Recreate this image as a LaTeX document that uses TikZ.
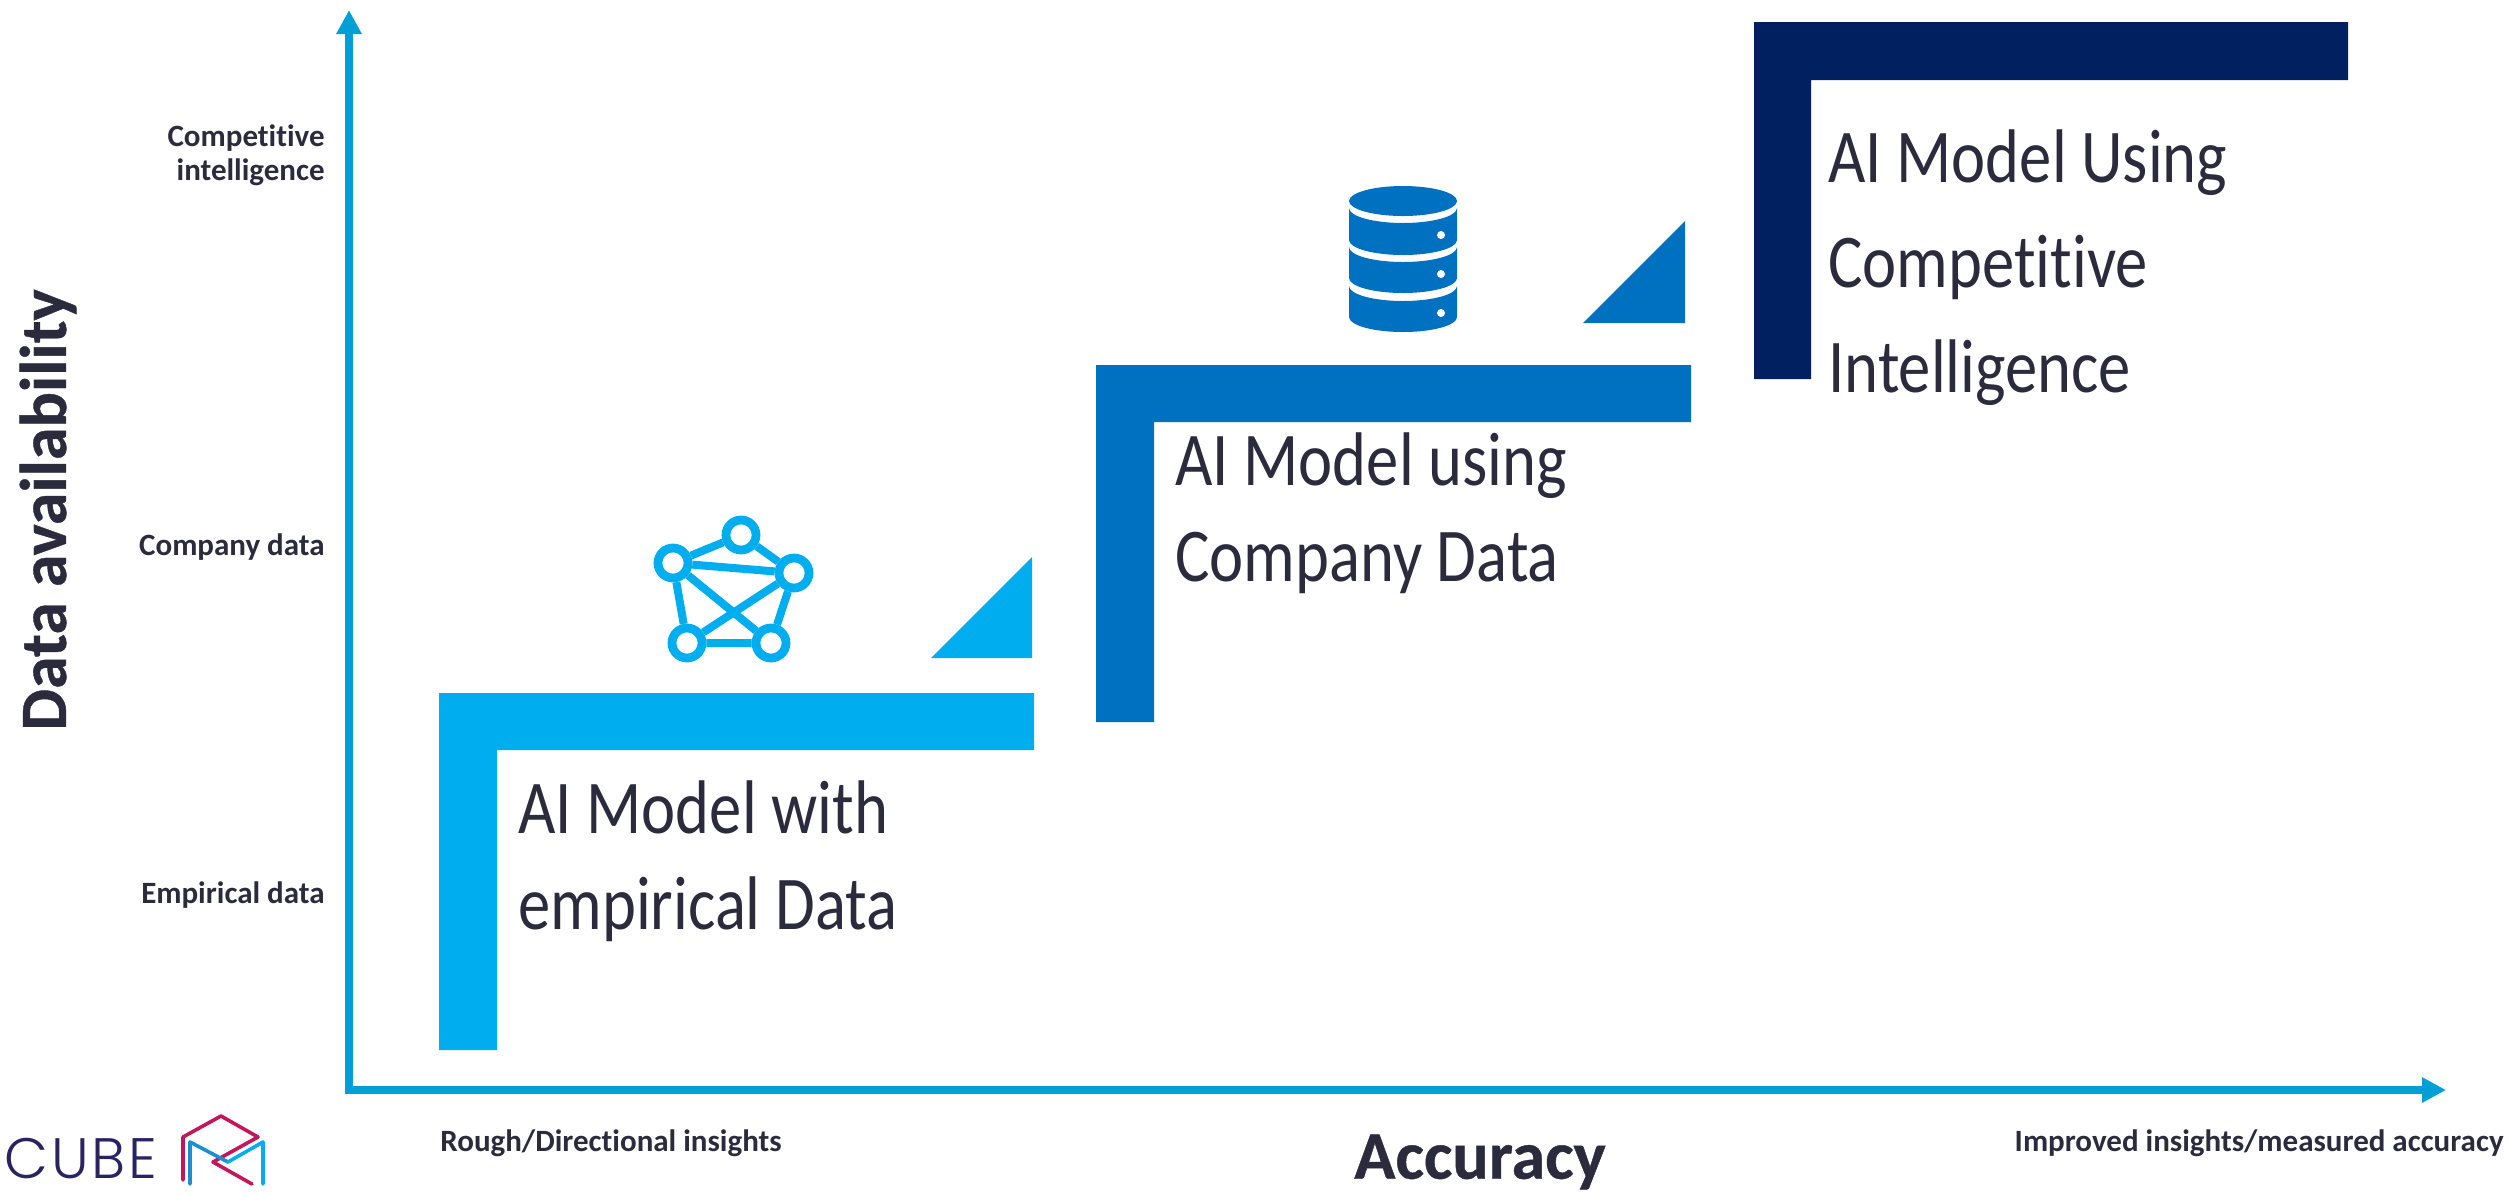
\documentclass[tikz,border=0pt]{standalone}
\usepackage{fontspec}
\setmainfont{Carlito}[Ligatures=NoCommon]
\newfontfamily\stepfont{Carlito}[Ligatures=NoCommon,FakeStretch=0.85]
\newfontfamily\titlefont{Carlito}[Ligatures=NoCommon,BoldFeatures={FakeBold=0.6}]
\newfontfamily\logofont{Poppins Light}[LetterSpace=5]
\usetikzlibrary{arrows.meta}
\definecolor{ink}{HTML}{2B2B3D}
\definecolor{axisblue}{HTML}{009FD6}
\definecolor{stepa}{HTML}{00AEEF}
\definecolor{stepb}{HTML}{0070C0}
\definecolor{stepc}{HTML}{002060}
\definecolor{logoink}{HTML}{2A2362}
\definecolor{logopink}{HTML}{C2185B}
\definecolor{logoblue}{HTML}{1B8FD0}
\tikzset{
  px/.style={x=0.5pt,y=-0.5pt},
  axisline/.style={draw=axisblue,line width=4pt,line join=miter,{Triangle[length=12pt,width=12pt]}-{Triangle[length=12pt,width=12pt]}},
  steptext/.style={text=ink,anchor=west,align=left,inner sep=0pt,font=\fontsize{38}{48}\stepfont},
  ticklabel/.style={text=ink,inner sep=0pt,font=\fontsize{15.5}{17}\selectfont\bfseries},
  axistitle/.style={text=ink,inner sep=0pt,font=\fontsize{34}{38}\titlefont\bfseries},
  neticon/.style={draw=stepa,line width=4pt},
  netnode/.style={circle,draw=stepa,line width=4.4pt,fill=white,minimum size=15pt,inner sep=0pt},
  logoline/.style={line width=1.8pt,line cap=round,line join=round},
}
\begin{document}
\begin{tikzpicture}[px]
\useasboundingbox (0,0) rectangle (2509,1196);
% axes
\coordinate (ytip) at (349,10);
\coordinate (org) at (349,1090);
\coordinate (xtip) at (2446,1090);
\draw[axisline] (ytip) -- (org) -- (xtip);
% steps
\fill[stepa] (439,693) -- (1034,693) -- (1034,750) -- (497,750) -- (497,1050) -- (439,1050) -- cycle;
\fill[stepb] (1096,365) -- (1691,365) -- (1691,422) -- (1154,422) -- (1154,722) -- (1096,722) -- cycle;
\fill[stepc] (1754,22) -- (2348,22) -- (2348,80) -- (1811,80) -- (1811,379) -- (1754,379) -- cycle;
\fill[stepa] (931,658) -- (1032,658) -- (1032,557) -- cycle;
\fill[stepb] (1583,323) -- (1685,323) -- (1685,221) -- cycle;
% step labels
\node[steptext] (ta) at (518,861) {AI Model with\\empirical Data};
\node[steptext] (tb) at (1175,513) {AI Model using\\Company Data};
\node[steptext,font=\fontsize{38}{52.5}\stepfont] (tc) at (1828,268) {AI Model Using\\Competitive\\Intelligence};
% axis labels
\node[ticklabel,anchor=east,align=right] (l3) at (325,155) {Competitive\\intelligence};
\node[ticklabel,anchor=east] (l2) at (325,547) {Company data};
\node[ticklabel,anchor=east] (l1) at (325,895) {Empirical data};
\node[ticklabel,anchor=west] (xl) at (440,1143) {Rough/Directional insights};
\node[ticklabel,anchor=east] (xr) at (2504,1143) {Improved insights/measured accuracy};
\node[axistitle,font=\fontsize{33}{38}\titlefont\bfseries,rotate=90] (yt) at (48,510) {Data availability};
\node[axistitle] (xt) at (1480,1162) {Accuracy};
% network icon
\node[netnode] (n1) at (741,535) {};
\node[netnode] (n2) at (673,563) {};
\node[netnode] (n3) at (794,573) {};
\node[netnode] (n4) at (687,643) {};
\node[netnode] (n5) at (771,643) {};
\draw[neticon] (n1) -- (n2) (n1) -- (n3) (n2) -- (n3) (n2) -- (n4) (n2) -- (n5) (n3) -- (n4) (n3) -- (n5) (n4) -- (n5);
% database icon
\fill[stepb] (1403,201) ellipse [x radius=54,y radius=15];
\fill[stepb] (1349,208) arc [start angle=180,end angle=0,x radius=54,y radius=15] -- (1457,240) arc [start angle=0,end angle=180,x radius=54,y radius=15] -- cycle;
\fill[stepb] (1349,247) arc [start angle=180,end angle=0,x radius=54,y radius=15] -- (1457,278) arc [start angle=0,end angle=180,x radius=54,y radius=15] -- cycle;
\fill[stepb] (1349,286) arc [start angle=180,end angle=0,x radius=54,y radius=15] -- (1457,317) arc [start angle=0,end angle=180,x radius=54,y radius=15] -- cycle;
\fill[white] (1441,235) circle [radius=4] (1441,274) circle [radius=4] (1441,313) circle [radius=4];
% logo
\node[anchor=west,inner sep=0pt,text=logoink,font=\fontsize{28.5}{30}\logofont] (logo) at (4,1158.5) {CUBE};
\draw[logoline,logopink] (183,1180) -- (183,1137) -- (221,1116) -- (258,1137) -- (213,1162) -- (252,1184);
\draw[logoline,logoblue] (190,1184) -- (190,1142) -- (228,1162);
\draw[logoline,stepa] (228,1162) -- (263,1142) -- (263,1184);
\end{tikzpicture}
\end{document}
